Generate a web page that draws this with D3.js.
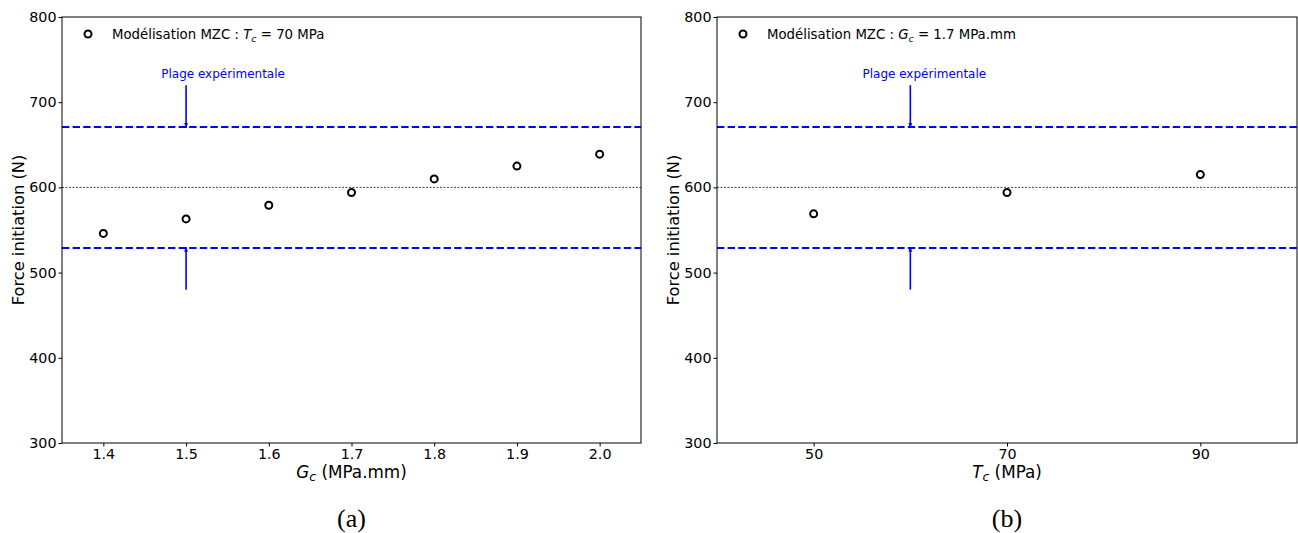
<!DOCTYPE html>
<html><head><meta charset="utf-8">
<script src="https://cdn.jsdelivr.net/npm/d3@7"></script>
<style>body{margin:0;background:#fff;} svg{display:block;font-family:"DejaVu Sans",sans-serif;}</style>
</head><body>
<svg id="c" width="1298" height="533"></svg>
<script>
// Data
const gcValues = [1.4, 1.5, 1.6, 1.7, 1.8, 1.9, 2.0];
const forceVsGc = [546, 563, 579, 594, 610, 625, 639];
const tcValues = [50, 70, 90];
const forceVsTc = [569, 594, 615];
const gcTicks = [1.4, 1.5, 1.6, 1.7, 1.8, 1.9, 2.0];
const tcTicks = [50, 70, 90];
const yTicks = [300, 400, 500, 600, 700, 800];
const expLow = 529, expHigh = 671, reference = 600;

const svg = d3.select("#c");
svg.append("defs").append("marker").attr("id","ah").attr("viewBox","0 0 10 10")
  .attr("refX",10).attr("refY",5).attr("markerWidth",3).attr("markerHeight",3).attr("orient","auto-start-reverse")
  .append("path").attr("d","M0,1 L10,5 L0,9 z").attr("fill","blue");

function panel(o){
  const g = svg.append("g");
  const x = d3.scaleLinear().domain(o.xDomain).range([o.x0, o.x1]);
  const y = d3.scaleLinear().domain([300, 800]).range([443, 17]);
  // reference lines
  g.append("line").attr("x1",o.x0).attr("x2",o.x1).attr("y1",y(reference)).attr("y2",y(reference))
    .attr("stroke","#444").attr("stroke-width",1).attr("stroke-dasharray","2,1.5");
  [expLow, expHigh].forEach(v=>{
    g.append("line").attr("x1",o.x0).attr("x2",o.x1).attr("y1",y(v)).attr("y2",y(v))
      .attr("stroke","blue").attr("stroke-width",2).attr("stroke-dasharray","7.4,3.2");
  });
  // arrows
  g.append("line").attr("x1",x(o.arrowX)).attr("x2",x(o.arrowX)).attr("y1",y(720)).attr("y2",y(expHigh)+1)
    .attr("stroke","blue").attr("stroke-width",1.6).attr("marker-end","url(#ah)");
  g.append("line").attr("x1",x(o.arrowX)).attr("x2",x(o.arrowX)).attr("y1",y(480)).attr("y2",y(expLow)-1)
    .attr("stroke","blue").attr("stroke-width",1.6).attr("marker-end","url(#ah)");
  g.append("text").attr("x",x(o.arrowX)+o.textDx).attr("y",y(720)-7).attr("text-anchor","middle")
    .attr("font-size",12).attr("fill","blue").text("Plage expérimentale");
  // points
  g.selectAll("circle.pt").data(o.xs.map((d,i)=>[d,o.ys[i]])).enter().append("circle")
    .attr("cx",d=>x(d[0])).attr("cy",d=>y(d[1])).attr("r",3.5)
    .attr("fill","none").attr("stroke","black").attr("stroke-width",2);
  // axes
  const ay = g.append("g").attr("transform",`translate(${o.x0},0)`).call(d3.axisLeft(y).tickValues(yTicks).tickSize(3.5).tickPadding(2));
  const ax = g.append("g").attr("transform",`translate(0,443)`).call(d3.axisBottom(x).tickValues(o.ticks).tickSize(3.5).tickPadding(2).tickFormat(o.fmt));
  [ax, ay].forEach(a=>{a.select(".domain").remove(); a.selectAll("text").attr("font-size",14.3).attr("font-family","DejaVu Sans").attr("fill","black"); a.selectAll("line").attr("stroke","black");});
  // frame
  g.append("rect").attr("x",o.x0).attr("y",17).attr("width",o.x1-o.x0).attr("height",426)
    .attr("fill","none").attr("stroke","black").attr("stroke-width",1);
  // y label
  g.append("text").attr("transform",`translate(${o.x0-38},${y(550)}) rotate(-90)`).attr("text-anchor","middle")
    .attr("font-size",16.3).text("Force initiation (N)");
  // x label
  const xl = g.append("text").attr("x",(o.x0+o.x1)/2).attr("y",478).attr("text-anchor","middle").attr("font-size",16.8);
  xl.append("tspan").attr("font-style","italic").text(o.xSym);
  xl.append("tspan").attr("font-style","italic").attr("font-size",12.5).attr("dy",3).text("c");
  xl.append("tspan").attr("dy",-3).text(" " + o.xUnit);
  // legend
  g.append("circle").attr("cx",o.x0+26).attr("cy",34).attr("r",3.5).attr("fill","none").attr("stroke","black").attr("stroke-width",2);
  const lt = g.append("text").attr("x",o.x0+50).attr("y",39).attr("font-size",13.3);
  lt.append("tspan").text("Modélisation MZC : ");
  lt.append("tspan").attr("font-style","italic").text(o.legSym);
  lt.append("tspan").attr("font-style","italic").attr("font-size",9.5).attr("dy",3).text("c");
  lt.append("tspan").attr("dy",-3).text(" = " + o.legVal);
  // caption
  svg.append("text").attr("x",(o.x0+o.x1)/2).attr("y",527).attr("text-anchor","middle")
    .attr("font-family","Liberation Serif, serif").attr("font-size",26).text(o.caption);
}

panel({x0:62, x1:641, xDomain:[1.35, 2.05], xs:gcValues, ys:forceVsGc, ticks:gcTicks, fmt:d3.format(".1f"),
  arrowX:1.5, textDx:37, xSym:"G", xUnit:"(MPa.mm)", legSym:"T", legVal:"70 MPa", caption:"(a)"});
panel({x0:717, x1:1297, xDomain:[40, 100], xs:tcValues, ys:forceVsTc, ticks:tcTicks, fmt:d3.format("d"),
  arrowX:60, textDx:14, xSym:"T", xUnit:"(MPa)", legSym:"G", legVal:"1.7 MPa.mm", caption:"(b)"});
</script>
</body></html>
